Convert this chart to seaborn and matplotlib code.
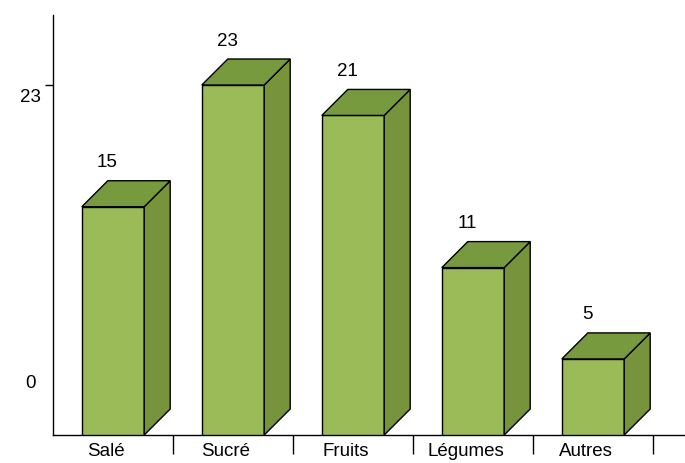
import matplotlib
matplotlib.use("Agg")
import matplotlib.pyplot as plt
import matplotlib.transforms as mtransforms
from matplotlib.patches import Polygon
import seaborn as sns
import pandas as pd

categories = ["Salé", "Sucré", "Fruits", "Légumes", "Autres"]
values = [15, 23, 21, 11, 5]
ytick_values = [23]

FRONT = "#9BBB59"
SIDE = "#77933C"
TOP = "#789A3F"

sns.set_style("white")
plt.rcParams["font.family"] = ["Liberation Sans", "DejaVu Sans"]

df = pd.DataFrame({"cat": categories, "val": values})

fig = plt.figure(figsize=(6.85, 4.63), dpi=100)
ax = fig.add_axes([53 / 685, 28 / 463, 632 / 685, 420 / 463])

sns.barplot(data=df, x="cat", y="val", color=FRONT, saturation=1, width=0.52,
            edgecolor="black", linewidth=1, ax=ax, zorder=3)

xmin, xmax = -0.5, 4.5 + 32 / 120
ymin, ymax = 0, 420 / (350 / 23)
ax.set_xlim(xmin, xmax)
ax.set_ylim(ymin, ymax)

# depth of the 3D effect, in pixels -> data units
depth = 26
dx = depth * (xmax - xmin) / 632
dy = depth * (ymax - ymin) / 420

for bar, v in zip(ax.patches, values):
    x0 = bar.get_x()
    x1 = x0 + bar.get_width()
    h = bar.get_height()
    side = Polygon([(x1, 0), (x1 + dx, dy), (x1 + dx, h + dy), (x1, h)],
                   closed=True, facecolor=SIDE, edgecolor="black", lw=1, zorder=3)
    top = Polygon([(x0, h), (x0 + dx, h + dy), (x1 + dx, h + dy), (x1, h)],
                  closed=True, facecolor=TOP, edgecolor="black", lw=1, zorder=3)
    ax.add_patch(side)
    ax.add_patch(top)
    # value label above the bar
    tr = mtransforms.offset_copy(ax.transData, fig=fig, x=-6, y=44, units="dots")
    ax.text((x0 + x1) / 2, h, str(v), transform=tr, ha="center", va="center",
            fontsize=13.5, color="black")

# axes
for s in ["top", "right"]:
    ax.spines[s].set_visible(False)
ax.spines["left"].set_color("black")
ax.spines["bottom"].set_color("black")
ax.spines["left"].set_linewidth(1)
ax.spines["bottom"].set_linewidth(1)

ax.set_yticks(ytick_values)
ax.set_yticklabels([""])
ax.tick_params(axis="y", left=True, direction="out", length=6, width=1, color="black")
ax.text(-23 / 632, 23 - 12 / (350 / 23), "23", transform=ax.get_yaxis_transform(),
        ha="center", va="center", fontsize=13.5, color="black")
ax.text(-23 / 632, 52 / (350 / 23), "0", transform=ax.get_yaxis_transform(),
        ha="center", va="center", fontsize=13.5, color="black")

ax.set_xticks([i + 0.5 for i in range(len(categories))])
ax.set_xticklabels([""] * len(categories))
ax.tick_params(axis="x", which="major", bottom=True, direction="out", length=14,
               width=1, color="black", pad=2)
ax.set_xticks([i - 0.06 for i in range(len(categories))], minor=True)
ax.set_xticklabels(categories, minor=True, fontsize=13.5)
ax.tick_params(axis="x", which="minor", bottom=True, length=0, pad=6,
               labelcolor="black")

ax.set_xlabel("")
ax.set_ylabel("")
ax.grid(False)

fig.savefig("out.png", dpi=100)
